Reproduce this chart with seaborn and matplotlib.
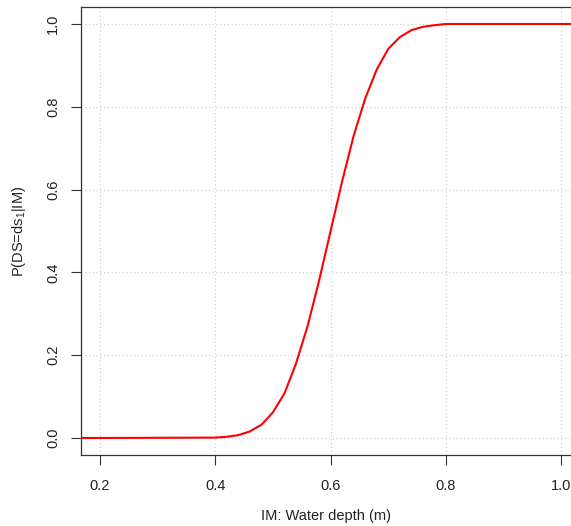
import numpy as np
import pandas as pd
import seaborn as sns
import matplotlib
matplotlib.use("Agg")
import matplotlib.pyplot as plt

# water depth (m) and probability of reaching ds1
depth = [0.17, 0.40, 0.42, 0.44, 0.46, 0.48, 0.50, 0.52, 0.54, 0.56, 0.58,
         0.60, 0.62, 0.64, 0.66, 0.68, 0.70, 0.72, 0.74, 0.76, 0.78, 0.80, 1.02]
prob = [0.0, 0.001, 0.003, 0.007, 0.016, 0.032, 0.062, 0.108, 0.18, 0.27, 0.38,
        0.50, 0.62, 0.73, 0.82, 0.89, 0.94, 0.968, 0.985, 0.993, 0.997, 1.0, 1.0]
xticks = [0.2, 0.4, 0.6, 0.8, 1.0]
yticks = [0.0, 0.2, 0.4, 0.6, 0.8, 1.0]

df = pd.DataFrame({"depth": depth, "prob": prob})

sns.set_style("white")
plt.rcParams["font.family"] = ["Liberation Sans", "DejaVu Sans"]
plt.rcParams["mathtext.default"] = "regular"

fig = plt.figure(figsize=(5.71, 5.26), dpi=100)
ax = fig.add_axes([81 / 571, 71 / 526, 1 - 81 / 571, 448 / 526])

ax.grid(True, color="#d3d3d3", linestyle=(0, (1, 2)), linewidth=0.9)
sns.lineplot(data=df, x="depth", y="prob", ax=ax, color="red", linewidth=1.5)

ax.set_xlim(0.167, 1.017)
ax.set_ylim(-0.041, 1.041)
ax.set_xticks(xticks)
ax.set_yticks(yticks)
ax.set_xticklabels([f"{t:.1f}" for t in xticks])
ax.set_yticklabels([f"{t:.1f}" for t in yticks], rotation=90, va="center")
ax.tick_params(axis="both", direction="out", length=7, width=0.8,
               color="#333333", labelsize=10.5, labelcolor="#222222",
               bottom=True, left=True)
ax.tick_params(axis="x", pad=10)
ax.tick_params(axis="y", pad=8)

for side in ["left", "bottom", "top"]:
    ax.spines[side].set_color("#333333")
    ax.spines[side].set_linewidth(0.9)
ax.spines["right"].set_visible(False)

ax.set_xlabel("IM: Water depth (m)", fontsize=10.5, labelpad=12, color="#222222")
ax.set_ylabel("P(DS=ds$_1$|IM)", fontsize=10.5, labelpad=13, color="#222222")

fig.savefig("out.png", dpi=100)
